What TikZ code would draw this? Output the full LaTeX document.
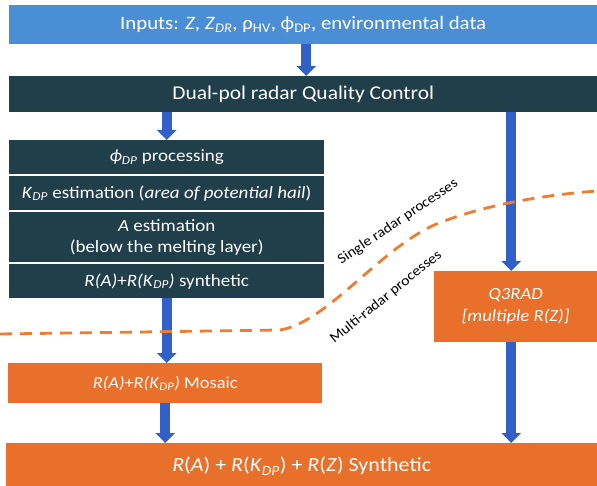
\documentclass[tikz,border=0pt]{standalone}
\usepackage{fontspec}
\setmainfont{Carlito}[FakeStretch=1.1]
\usetikzlibrary{arrows.meta}

\definecolor{inblue}{HTML}{4A8FD6}
\definecolor{qcdark}{HTML}{213F4A}
\definecolor{procorange}{HTML}{E8702A}
\definecolor{flowblue}{HTML}{3060C8}
\definecolor{splitorange}{HTML}{EE7D31}

\newcommand\lo[1]{\textsubscript{#1}}

\tikzset{
  blk/.style={anchor=north west, inner sep=0pt, align=center, text=white},
  inblk/.style={blk, fill=inblue},
  darkblk/.style={blk, fill=qcdark},
  orblk/.style={blk, fill=procorange},
  flow/.style={draw=flowblue, line width=10pt,
    -{Triangle[width=19pt,length=10pt]}, shorten >=0pt},
  splitline/.style={draw=splitorange, line width=2.8pt, dash pattern=on 12pt off 8pt},
  splitlabel/.style={font=\fontsize{14.3}{16}\selectfont, text=black, inner sep=0pt}
}

\begin{document}
\begin{tikzpicture}[x=1pt, y=-1pt]
\useasboundingbox (0,0) rectangle (597,486);

% input data and quality control
\node[inblk, minimum width=588pt, minimum height=39pt,
      font=\fontsize{18.9}{22}\selectfont] (inp) at (9,5)
  {Inputs: \textit{Z}, \textit{Z}\lo{\textit{DR}}, ρ\lo{HV}, ϕ\lo{DP}, environmental data};
\node[darkblk, minimum width=588pt, minimum height=36pt,
      font=\fontsize{19.5}{22}\selectfont] (qc) at (9,76)
  {Dual-pol radar Quality Control};

% single radar processing chain
\begin{scope}[every node/.style={darkblk, minimum width=315pt,
      font=\fontsize{17.3}{21}\selectfont}]
  \node[minimum height=34pt] (phi) at (9,140) {\textit{ϕ}\lo{\textit{DP}} processing};
  \node[minimum height=34pt] (kdp) at (9,176)
    {\textit{K}\lo{\textit{DP}} estimation (\textit{area of potential hail})};
  \node[minimum height=50pt] (att) at (9,212)
    {\textit{A} estimation\\(below the melting layer)};
  \node[minimum height=34pt] (syn) at (9,264)
    {\textit{R(A)}+\textit{R(K}\lo{\textit{DP}}\textit{)} synthetic};
\end{scope}

% multi-radar products
\node[orblk, minimum width=314pt, minimum height=40pt,
      font=\fontsize{16.7}{19}\selectfont] (mos) at (8,363)
  {\textit{R(A)}+\textit{R(K}\lo{\textit{DP}}\textit{)} Mosaic};
\node[orblk, minimum width=163pt, minimum height=71pt,
      font=\itshape\fontsize{17}{22}\selectfont] (q3) at (434,271)
  {Q3RAD\\{}[multiple R(Z)]};
\node[orblk, minimum width=591pt, minimum height=46pt,
      font=\fontsize{20}{23}\selectfont] (fin) at (6,443)
  {\textit{R}(\textit{A}) + \textit{R}(\textit{K}\lo{\textit{DP}}) + \textit{R}(\textit{Z}) Synthetic};

% flow arrows
\draw[flow] ([xshift=3pt]inp.south) -- ([xshift=3pt]qc.north);
\draw[flow] (qc.south -| phi.north) -- (phi.north);
\draw[flow] (syn.south) -- (syn.south |- mos.north);
\draw[flow] (mos.south) -- (mos.south |- fin.north);
\coordinate (q3top) at ([xshift=-4.5pt]q3.north);
\coordinate (q3bot) at ([xshift=-4.5pt]q3.south);
\draw[flow] (qc.south -| q3top) -- (q3top);
\draw[flow] (q3bot) -- (q3bot |- fin.north);

% boundary between single radar and multi-radar processing
\coordinate (sl0) at (0,334);
\coordinate (sl1) at (280,330);
\coordinate (sl2) at (447,220);
\coordinate (sl3) at (597,191);
\draw[splitline] (sl0) -- (sl1)
  .. controls (330,322) and (385,240) .. (sl2)
  .. controls (480,208) and (530,196) .. (sl3);
\node[splitlabel, rotate=34] (single) at (398,222) {Single radar processes};
\node[splitlabel, rotate=39] (multi) at (386,297) {Multi-radar processes};
\end{tikzpicture}
\end{document}
